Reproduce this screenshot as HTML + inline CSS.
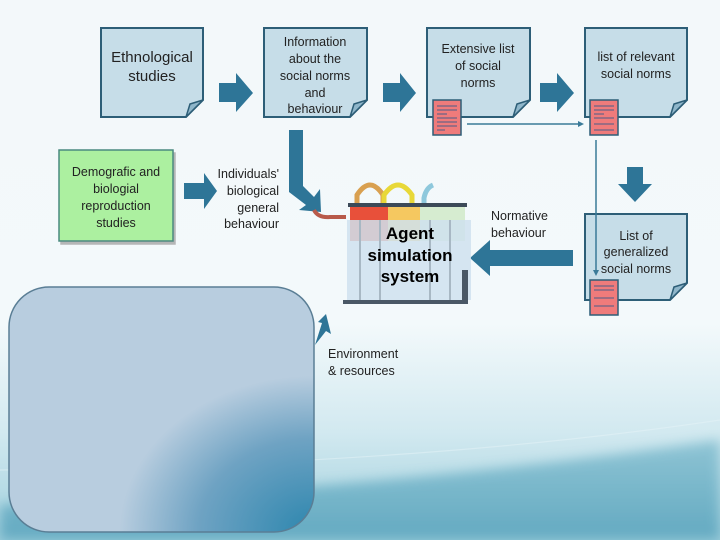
<!DOCTYPE html>
<html><head><meta charset="utf-8"><style>
html,body{margin:0;padding:0;}
body{width:720px;height:540px;overflow:hidden;font-family:"Liberation Sans",sans-serif;}
</style></head><body>
<svg width="720" height="540" viewBox="0 0 720 540" xmlns="http://www.w3.org/2000/svg" font-family="Liberation Sans, sans-serif">
<defs>
<linearGradient id="bg" x1="0" y1="0" x2="0" y2="1">
<stop offset="0" stop-color="#f3f8fa"/><stop offset="0.6" stop-color="#f3f9fb"/><stop offset="0.8" stop-color="#d2e9f0"/><stop offset="1" stop-color="#9fcfdc"/>
</linearGradient>
<linearGradient id="wave" x1="0" y1="0" x2="0" y2="1">
<stop offset="0" stop-color="#7ab9cc"/><stop offset="1" stop-color="#4f9db8"/>
</linearGradient>
<radialGradient id="rr" cx="1" cy="1" r="0.85">
<stop offset="0" stop-color="#2c86ae"/><stop offset="0.45" stop-color="#6fa3c3"/><stop offset="0.75" stop-color="#b8cddf"/><stop offset="1" stop-color="#b8cddf"/>
</radialGradient>
<filter id="sh"><feDropShadow dx="2" dy="3" stdDeviation="0" flood-color="#999" flood-opacity="0.7"/></filter>
<filter id="bl"><feGaussianBlur stdDeviation="6"/></filter>
</defs>
<rect width="720" height="540" fill="url(#bg)"/>
<path d="M0 505 Q380 490 720 440 L720 540 L0 540Z" fill="url(#wave)" opacity="0.75" filter="url(#bl)"/>
<path d="M0 470 Q420 465 720 420" stroke="#e5f4f8" stroke-width="1.2" fill="none" opacity="0.5"/>

<!-- doc boxes -->
<g fill="#c6dde8" stroke="#2d5e77" stroke-width="2">
<path d="M101 28 H203 V100 L186 117 H101Z"/>
<path d="M264 28 H367 V100 L350 117 H264Z"/>
<path d="M427 28 H530 V100 L513 117 H427Z"/>
<path d="M585 28 H687 V100 L670 117 H585Z"/>
<path d="M585 214 H687 V283 L670 300 H585Z"/>
</g>
<g fill="#8fb6ca" stroke="#2d5e77" stroke-width="1.5">
<path d="M186 117 L190 104 L203 100Z"/><path d="M350 117 L354 104 L367 100Z"/><path d="M513 117 L517 104 L530 100Z"/><path d="M670 117 L674 104 L687 100Z"/><path d="M670 300 L674 287 L687 283Z"/>
</g>
<g>
<g transform="translate(433,100)"><rect width="28" height="35" fill="#ef7b7b" stroke="#2d5e77" stroke-width="1.5"/><g stroke="#4a5e8a" stroke-width="1"><line x1="4" y1="6" x2="24" y2="6"/><line x1="4" y1="10" x2="24" y2="10"/><line x1="4" y1="14" x2="14" y2="14"/><line x1="4" y1="18" x2="24" y2="18"/><line x1="4" y1="22" x2="24" y2="22"/><line x1="4" y1="26" x2="24" y2="26"/><line x1="4" y1="30" x2="12" y2="30"/></g></g>
<g transform="translate(590,100)"><rect width="28" height="35" fill="#ef7b7b" stroke="#2d5e77" stroke-width="1.5"/><g stroke="#4a5e8a" stroke-width="1"><line x1="4" y1="6" x2="24" y2="6"/><line x1="4" y1="10" x2="24" y2="10"/><line x1="4" y1="14" x2="14" y2="14"/><line x1="4" y1="18" x2="24" y2="18"/><line x1="4" y1="24" x2="24" y2="24"/><line x1="4" y1="30" x2="24" y2="30"/></g></g>
<g transform="translate(590,280)"><rect width="28" height="35" fill="#ef7b7b" stroke="#2d5e77" stroke-width="1.5"/><g stroke="#4a5e8a" stroke-width="1"><line x1="4" y1="6" x2="24" y2="6"/><line x1="4" y1="10" x2="24" y2="10"/><line x1="4" y1="18" x2="24" y2="18"/><line x1="4" y1="26" x2="24" y2="26"/></g></g>
</g>
<line x1="467" y1="124" x2="580" y2="124" stroke="#3a7a98" stroke-width="1.5"/>
<path d="M584 124 L578 121 L578 127Z" fill="#3a7a98"/>
<line x1="596" y1="140" x2="596" y2="272" stroke="#3a7a98" stroke-width="1.5"/>
<path d="M596 276 L593 270 L599 270Z" fill="#3a7a98"/>

<rect x="59" y="150" width="114" height="91" fill="#acf0a0" stroke="#4a8a80" stroke-width="1.5" filter="url(#sh)"/>

<rect x="9" y="287" width="305" height="245" rx="40" fill="url(#rr)" stroke="#5a7e95" stroke-width="1.5"/>

<g fill="#2e7597">
<path d="M219 83 H236 V73 L253 93 L236 112 V102 H219Z"/>
<path d="M383 83 H400 V73 L416 93 L400 112 V102 H383Z"/>
<path d="M540 83 H557 V73 L574 93 L557 112 V102 H540Z"/>
<path d="M184 183 H204 V173 L217 191 L204 209 V199 H184Z"/>
<path d="M627 167 H643 V184 H652 L635 202 L618 184 H627Z"/>
<path d="M573 250 H490 V240 L470 258 L490 276 V266 H573Z"/>
<path d="M289 130 H303 V186 L314 197 L320 189 L321 212 L299 210 L306 205 L289 192Z"/>
<path d="M315 345 L322 323 L318 322 L326 314 L331 334 L326 331Z"/>
</g>
<path d="M314 210 Q318 218 330 217 H346" stroke="#b85a4a" stroke-width="4" fill="none"/>

<g>
<rect x="350" y="205" width="115" height="36" fill="#f5c860"/>
<rect x="350" y="205" width="38" height="36" fill="#e8503a"/>
<rect x="420" y="205" width="45" height="36" fill="#d6ecd0"/>
<path d="M357 205 V195 Q370 175 383 195 V205" stroke="#d9a050" stroke-width="5" fill="none"/>
<path d="M384 205 V195 Q398 175 412 195 V205" stroke="#e8d838" stroke-width="5" fill="none"/>
<path d="M424 205 V198 Q426 188 433 185" stroke="#8ec8dc" stroke-width="5" fill="none"/>
<rect x="348" y="203" width="119" height="4" fill="#3c4a58"/>
<rect x="347" y="220" width="124" height="80" fill="#cfe2ee" opacity="0.85"/>
<g stroke="#a8b8c4" stroke-width="2"><line x1="360" y1="220" x2="360" y2="300"/><line x1="380" y1="220" x2="380" y2="300"/><line x1="430" y1="220" x2="430" y2="300"/><line x1="450" y1="220" x2="450" y2="300"/></g>
<rect x="343" y="300" width="125" height="4" fill="#4a5866"/>
<rect x="462" y="270" width="6" height="32" fill="#4a5866"/>
</g>
<text x="410" y="239" font-size="17" font-weight="bold" text-anchor="middle" fill="#000">Agent</text>
<text x="410" y="261" font-size="17" font-weight="bold" text-anchor="middle" fill="#000">simulation</text>
<text x="410" y="282" font-size="17" font-weight="bold" text-anchor="middle" fill="#000">system</text>

<g font-size="15" fill="#222" text-anchor="middle">
<text x="152" y="62">Ethnological</text><text x="152" y="81">studies</text>
</g>
<g font-size="12.5" fill="#222" text-anchor="middle">
<text x="315" y="46">Information</text><text x="315" y="63">about the</text><text x="315" y="80">social norms</text><text x="315" y="97">and</text><text x="315" y="113">behaviour</text>
<text x="478" y="53">Extensive list</text><text x="478" y="70">of social</text><text x="478" y="87">norms</text>
<text x="636" y="61">list of relevant</text><text x="636" y="78">social norms</text>
<text x="636" y="240">List of</text><text x="636" y="256">generalized</text><text x="636" y="273">social norms</text>
<text x="116" y="176">Demografic and</text><text x="116" y="193">biologial</text><text x="116" y="210">reproduction</text><text x="116" y="227">studies</text>
</g>
<g font-size="12.5" fill="#222" text-anchor="end">
<text x="279" y="178">Individuals'</text><text x="279" y="195">biological</text><text x="279" y="212">general</text><text x="279" y="228">behaviour</text>
</g>
<g font-size="12.5" fill="#222">
<text x="491" y="220">Normative</text><text x="491" y="237">behaviour</text>
<text x="328" y="358">Environment</text><text x="328" y="375">&amp; resources</text>
</g>
</svg>
</body></html>
